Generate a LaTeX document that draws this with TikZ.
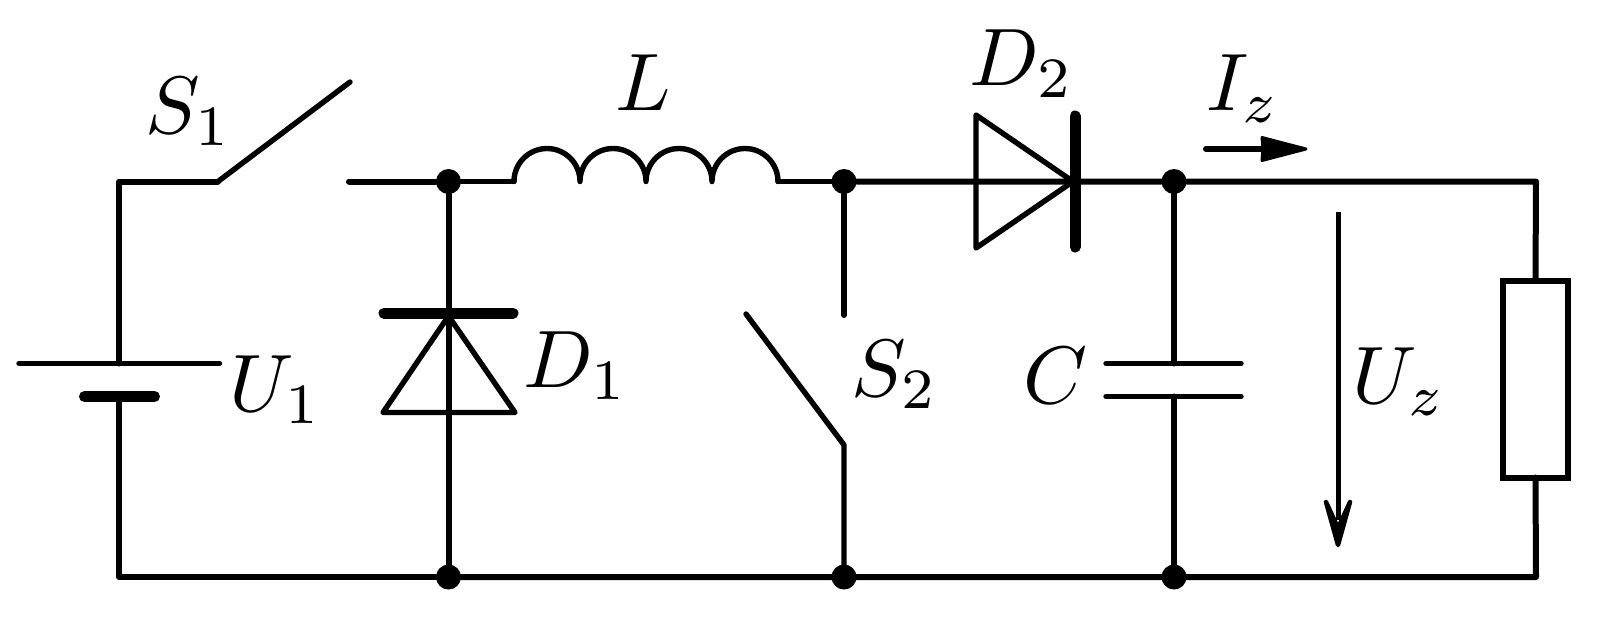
\documentclass[tikz,border=0pt]{standalone}
\usetikzlibrary{calc}
\tikzset{
  wire/.style={line width=6pt,line cap=round,line join=round},
  thin wire/.style={line width=5.4pt,line cap=round,line join=round},
  plate/.style={line width=11pt,line cap=round},
  dot/.style={circle,fill=black,inner sep=0pt,minimum size=25pt},
  lbl/.style={inner sep=0pt,anchor=base west,scale=8.15},
  head/.style={fill=black,line width=3pt,line join=round,draw=black},
}
\begin{document}
\begin{tikzpicture}[x=1pt,y=-1pt]
\useasboundingbox (0,0) rectangle (1607,630);
\fill[white] (0,0) rectangle (1607,630);
% corners and ends
\coordinate (tl) at (119,181.5);
\coordinate (bl) at (119,577);
\coordinate (tr) at (1536,181.5);
\coordinate (br) at (1536,577);
\coordinate (s1a) at (218,181.5);
\coordinate (s1b) at (350,82);
\coordinate (s1c) at (349,181.5);
\coordinate (batA) at (119,363.5);
\coordinate (batB) at (119,396.5);
\coordinate (batAl) at (19,363.5);
\coordinate (batAr) at (219.5,363.5);
\coordinate (batBl) at (84.5,396.5);
\coordinate (batBr) at (154.5,396.5);
\coordinate (l1) at (514,181.5);
\coordinate (l2) at (778,181.5);
\coordinate (s2top) at (844,315);
\coordinate (s2hinge) at (844,445);
\coordinate (s2blade) at (746,314);
\coordinate (capA) at (1174,363.5);
\coordinate (capB) at (1174,396.5);
% junctions
\node[dot] (j1) at (448.5,181.5) {};
\node[dot] (j2) at (844,181.5) {};
\node[dot] (j3) at (1174,181.5) {};
\node[dot] (j4) at (448.5,577) {};
\node[dot] (j5) at (844,577) {};
\node[dot] (j6) at (1174,577) {};
% resistor
\node[draw,line width=6pt,minimum width=65pt,minimum height=197pt,inner sep=0pt,outer sep=0pt] (rz) at (1535.5,379) {};
% wires
\draw[wire] (batA) -- (tl) -- (s1a);
\draw[thin wire] (s1a) -- (s1b);
\draw[wire] (batB) -- (bl) -- (j4);
\draw[thin wire] (batAl) -- (batAr);
\draw[plate] (batBl) -- (batBr);
\draw[wire] (s1c) -- (j1);
\draw[thin wire] (j1) -- (l1);
\draw[line width=5.4pt,line join=round,line cap=round] (l1)
  arc[start angle=180,end angle=360,radius=33]
  arc[start angle=180,end angle=360,radius=33]
  arc[start angle=180,end angle=360,radius=33]
  arc[start angle=180,end angle=360,radius=33];
\draw[thin wire] (l2) -- (j2);
\draw[wire] (j2) -- (j3) -- (tr) -- (rz.north);
\draw[wire] (rz.south) -- (br) -- (j6) -- (j5) -- (j4);
\draw[wire] (j1) -- (j4);
% D1
\coordinate (d1apex) at (448.5,316);
\draw[thin wire] (d1apex) -- (383,412.5) -- (515,412.5) -- cycle;
\draw[plate] (384,313) -- (513,313);
% S2
\draw[wire] (j2) -- (s2top);
\draw[thin wire] (s2blade) -- (s2hinge) -- (j5);
% D2
\draw[thin wire] (976,115) -- (976,248) -- (1073,181.5) -- cycle;
\draw[plate] (1075,116) -- (1075,247);
% C
\draw[wire] (j3) -- (capA);
\draw[wire] (capB) -- (j6);
\draw[thin wire] (1106,363.5) -- (1241,363.5);
\draw[thin wire] (1106,396.5) -- (1241,396.5);
% arrows
\coordinate (izA) at (1206,149);
\coordinate (izB) at (1262,149);
\draw[wire] (izA) -- (izB);
\draw[head] (1306,149) -- (1262,137.5) -- (1263,149) -- (1262,160.5) -- cycle;
\coordinate (uzA) at (1338,212);
\coordinate (uzB) at (1338,520);
\draw[line width=5pt] (uzA) -- (uzB);
\draw[head,line width=4.5pt] (1338,545) -- (1326,502) -- (1338,528) -- (1350,502) -- cycle;
% labels
\node[lbl] (s1) at (144,133) {$S_1$};
\node[lbl] (u1) at (228,411) {$U_1$};
\node[lbl] (d1) at (522,387) {$D_1$};
\node[lbl] (ll) at (614,110) {$L$};
\node[lbl] (d2) at (968,85) {$D_2$};
\node[lbl] (iz) at (1205,110) {$I_z$};
\node[lbl] (s2) at (850,396) {$S_2$};
\node[lbl] (cc) at (1022,403) {$C$};
\node[lbl] (uz) at (1351,403) {$U_z$};
\end{tikzpicture}
\end{document}
